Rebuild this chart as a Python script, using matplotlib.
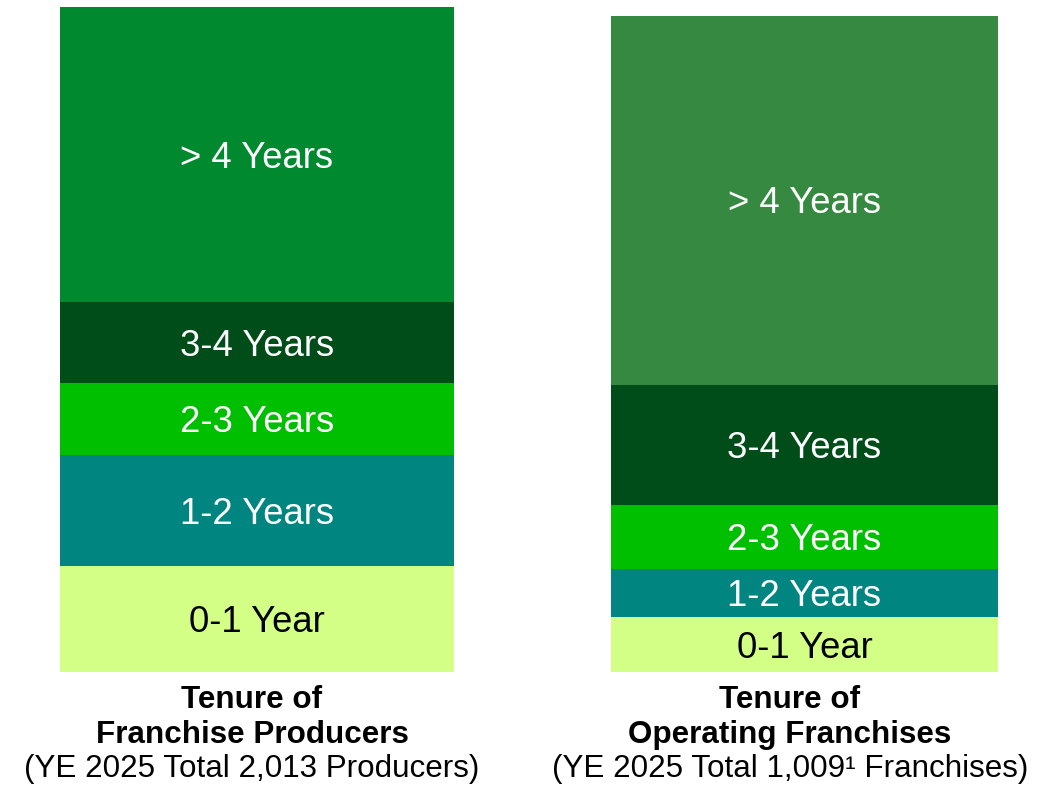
import matplotlib
matplotlib.use("Agg")
import matplotlib.pyplot as plt

plt.rcParams["font.family"] = ["Liberation Sans", "DejaVu Sans"]

# tenure buckets, bottom to top
buckets = ["0-1 Year", "1-2 Years", "2-3 Years", "3-4 Years", "> 4 Years"]
producers_pct = [15.9, 16.7, 10.8, 12.2, 44.4]
franchises_pct = [8.4, 7.3, 9.8, 18.3, 56.2]

left_colors = ["#D3FF87", "#008580", "#00BE00", "#004D1A", "#00892F"]
right_colors = ["#D3FF87", "#008580", "#00BE00", "#004D1A", "#358940"]
text_colors = ["black", "white", "white", "white", "white"]

W, H = 1061, 786
LABEL_FS = 26.3
CAP_FS = 22.6

fig = plt.figure(figsize=(W / 100, H / 100), dpi=100)


def stacked_bar(rect, values, colors):
    ax = fig.add_axes(rect)
    bottom = 0
    for label, val, col, tc in zip(buckets, values, colors, text_colors):
        ax.bar(0, val, width=1, bottom=bottom, color=col, linewidth=0)
        # baseline shifted down by half a cap height so caps sit centred
        ax.annotate(label, (0, bottom + val / 2), xytext=(0, -0.358 * LABEL_FS),
                    textcoords="offset points", ha="center", va="baseline",
                    fontsize=LABEL_FS, color=tc)
        bottom += val
    ax.set_xlim(-0.5, 0.5)
    ax.set_ylim(0, 100)
    ax.axis("off")
    return ax


stacked_bar([60 / W, 114 / H, 394 / W, 665 / H], producers_pct, left_colors)
stacked_bar([611 / W, 114 / H, 387 / W, 656 / H], franchises_pct, right_colors)


# captions under each bar
def caption(xc, line1, line2, line3):
    fig.text(xc / W, 1 - 708 / H, line1, ha="center", va="baseline",
             fontsize=CAP_FS, fontweight="bold")
    fig.text(xc / W, 1 - 743 / H, line2, ha="center", va="baseline",
             fontsize=CAP_FS, fontweight="bold")
    fig.text(xc / W, 1 - 777 / H, line3, ha="center", va="baseline",
             fontsize=CAP_FS)


caption(252, "Tenure of", "Franchise Producers",
        "(YE 2025 Total 2,013 Producers)")
caption(790, "Tenure of", "Operating Franchises",
        "(YE 2025 Total 1,009\u00b9 Franchises)")

fig.savefig("out.png", dpi=100)
